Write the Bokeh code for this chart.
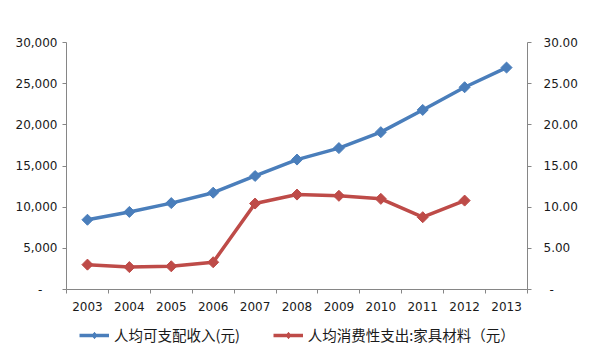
from bokeh.plotting import figure
from bokeh.layouts import column
from bokeh.models import (Range1d, LinearAxis, FixedTicker, NumeralTickFormatter,
                          Legend, LegendItem, ColumnDataSource)
from bokeh.embed import file_html
from bokeh.resources import INLINE
import math

years = [2003, 2004, 2005, 2006, 2007, 2008, 2009, 2010, 2011, 2012, 2013]
income = [8472, 9422, 10493, 11759, 13786, 15781, 17175, 19109, 21810, 24565, 26955]
furn_years = [2003, 2004, 2005, 2006, 2007, 2008, 2009, 2010, 2011, 2012]
furniture = [3.02, 2.72, 2.82, 3.31, 10.44, 11.53, 11.38, 11.01, 8.78, 10.80]
name_income = "人均可支配收入(元)"
name_furn = "人均消费性支出:家具材料（元）"

BLUE = "#4A7EBB"
RED = "#BE4B48"
AX = "#868686"
TXT = "#1a1a1a"
FONT = "DejaVu Sans"

p = figure(width=590, height=320, output_backend="svg", toolbar_location=None,
           x_range=Range1d(2002.5, 2013.5), y_range=Range1d(0, 30000),
           min_border_left=66, min_border_right=63, min_border_top=42, min_border_bottom=31)
p.extra_y_ranges = {"right": Range1d(0, 30)}
p.outline_line_color = None
p.xgrid.visible = False
p.ygrid.visible = False
p.background_fill_color = "white"
p.border_fill_color = "white"

src1 = ColumnDataSource(dict(x=years, y=income))
src2 = ColumnDataSource(dict(x=furn_years, y=furniture))

line_kw = dict(line_width=3.5)
mark_kw = dict(marker="square", angle=math.pi / 4, size=7.8)

p.line("x", "y", source=src1, line_color=BLUE, **line_kw)
p.scatter("x", "y", source=src1, fill_color=BLUE, line_color=BLUE, **mark_kw)
p.line("x", "y", source=src2, line_color=RED, y_range_name="right", **line_kw)
p.scatter("x", "y", source=src2, fill_color=RED, line_color=RED, y_range_name="right", **mark_kw)

# bottom axis
xa = p.xaxis[0]
xa.ticker = FixedTicker(ticks=years, minor_ticks=[y - 0.5 for y in years] + [years[-1] + 0.5])
xa.major_tick_out = 0
xa.major_tick_in = 0
xa.minor_tick_out = 4
xa.minor_tick_in = 0
xa.minor_tick_line_color = AX
xa.axis_line_color = AX
xa.major_label_text_font = FONT
xa.major_label_text_font_size = "12px"
xa.major_label_text_color = TXT
xa.major_label_standoff = 8

# left axis
ya = p.yaxis[0]
ya.ticker = FixedTicker(ticks=[0, 5000, 10000, 15000, 20000, 25000, 30000])
ya.formatter = NumeralTickFormatter(format="0,0")
ya.major_label_overrides = {0: "-\u2007\u2007"}
ya.major_tick_out = 4
ya.major_tick_in = 0
ya.minor_tick_line_color = None
ya.axis_line_color = AX
ya.major_tick_line_color = AX
ya.major_label_text_font = FONT
ya.major_label_text_font_size = "12px"
ya.major_label_text_color = TXT
ya.major_label_standoff = 5

# right axis
ra = LinearAxis(y_range_name="right",
                ticker=FixedTicker(ticks=[0, 5, 10, 15, 20, 25, 30]),
                formatter=NumeralTickFormatter(format="0.00"))
ra.major_label_overrides = {0: "\u2002-"}
ra.major_tick_out = 4
ra.major_tick_in = 0
ra.minor_tick_line_color = None
ra.axis_line_color = AX
ra.major_tick_line_color = AX
ra.major_label_text_font = FONT
ra.major_label_text_font_size = "12px"
ra.major_label_text_color = TXT
ra.major_label_standoff = 12
p.add_layout(ra, "right")

# legend strip (separate figure below the chart; its ranges keep the data out of view)
lg = figure(width=590, height=31, output_backend="svg", toolbar_location=None,
            x_axis_type=None, y_axis_type=None,
            x_range=Range1d(0, 1), y_range=Range1d(0, 1),
            min_border_left=66, min_border_right=63, min_border_top=0, min_border_bottom=0)
lg.outline_line_color = None
lg.xgrid.visible = False
lg.ygrid.visible = False
leg_mark = dict(marker="diamond", size=13)
el1 = lg.line("x", "y", source=src1, line_color=BLUE, **line_kw)
em1 = lg.scatter("x", "y", source=src1, fill_color=BLUE, line_color=BLUE, **leg_mark)
el2 = lg.line("x", "y", source=src2, line_color=RED, **line_kw)
em2 = lg.scatter("x", "y", source=src2, fill_color=RED, line_color=RED, **leg_mark)

legend = Legend(items=[LegendItem(label=name_income, renderers=[el1, em1]),
                       LegendItem(label=name_furn, renderers=[el2, em2])],
                orientation="horizontal", location=(13, 6))
legend.label_text_font = "Noto Sans CJK SC"
legend.label_text_font_size = "14.5px"
legend.label_text_color = TXT
legend.glyph_width = 30
legend.glyph_height = 16
legend.label_standoff = 5
legend.spacing = 33
legend.padding = 0
legend.margin = 0
legend.border_line_color = None
legend.background_fill_alpha = 0
lg.add_layout(legend, "center")

layout = column(p, lg, spacing=0)
open("out.html", "w").write(file_html(layout, INLINE))
